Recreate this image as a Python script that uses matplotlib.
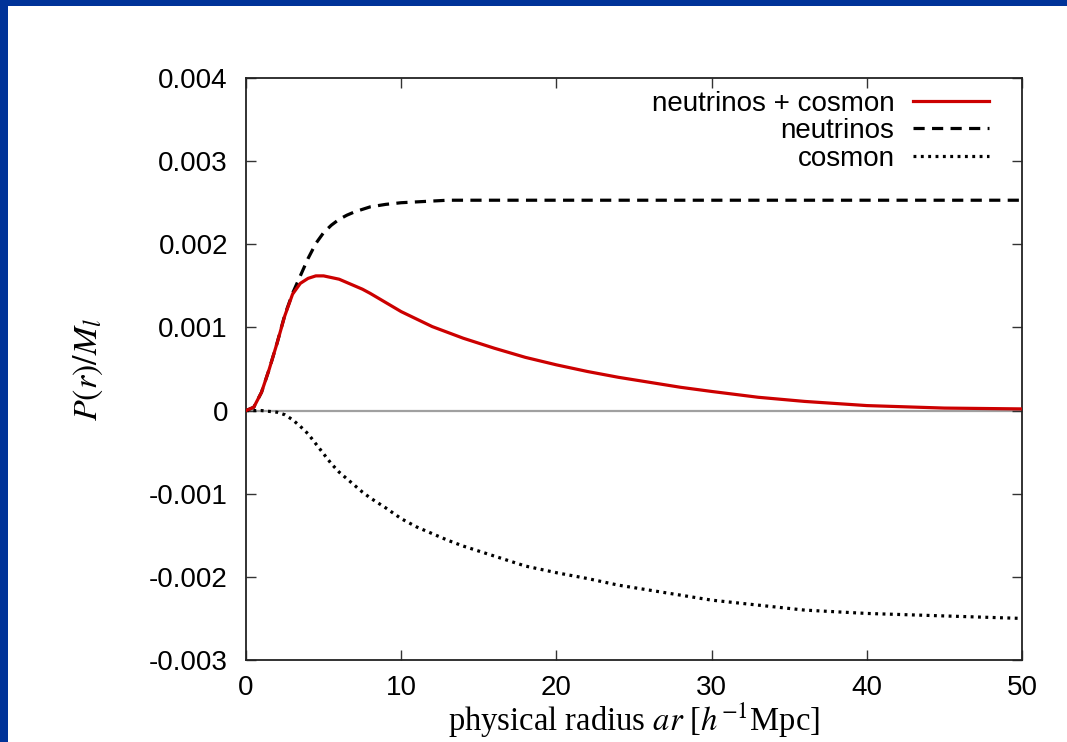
import numpy as np
import matplotlib
matplotlib.use("Agg")
import matplotlib.pyplot as plt
from matplotlib.patches import Rectangle

plt.rcParams['font.family'] = ['Liberation Sans', 'DejaVu Sans']
plt.rcParams['mathtext.fontset'] = 'stix'

# radius values (h^-1 Mpc)
radius = [0, 0.5, 1, 1.5, 2, 2.5, 3, 3.5, 4, 4.5, 5, 5.5, 6, 6.5, 7, 7.5, 8, 9,
          10, 11, 12, 13, 14, 16, 18, 20, 22, 24, 26, 28, 30, 33, 36, 40, 45, 50]

# neutrinos + cosmon (solid red)
total = [0, 0.00004, 0.00022, 0.0005, 0.00081, 0.00114, 0.0014, 0.00153,
         0.00159, 0.00162, 0.00162, 0.0016, 0.00158, 0.00154, 0.0015, 0.00146,
         0.00141, 0.0013, 0.00119, 0.0011, 0.00101, 0.00094, 0.00087, 0.00075,
         0.00064, 0.00055, 0.00047, 0.0004, 0.00034, 0.00028, 0.00023, 0.00016,
         0.00011, 0.00006, 0.00003, 0.00002]

# neutrinos (dashed)
neutrinos = [0, 0.00004, 0.00022, 0.0005, 0.00081, 0.00115, 0.00141, 0.00162,
             0.00183, 0.00201, 0.00214, 0.00223, 0.0023, 0.00235, 0.00239,
             0.00242, 0.00245, 0.00248, 0.0025, 0.00251, 0.00252, 0.00253,
             0.00253, 0.00253, 0.00253, 0.00253, 0.00253, 0.00253, 0.00253,
             0.00253, 0.00253, 0.00253, 0.00253, 0.00253, 0.00253, 0.00253]

# cosmon (dotted)
cosmon = [0, 0, 0, -0.00001, -0.00002, -0.00005, -0.00011, -0.00019, -0.00028,
          -0.0004, -0.00052, -0.00064, -0.00074, -0.00082, -0.0009, -0.00098,
          -0.00105, -0.00117, -0.0013, -0.0014, -0.00148, -0.00156, -0.00163,
          -0.00175, -0.00187, -0.00195, -0.00202, -0.0021, -0.00216, -0.00222,
          -0.00228, -0.00234, -0.0024, -0.00244, -0.00247, -0.0025]

xticks = [0, 10, 20, 30, 40, 50]
yticks = [-0.003, -0.002, -0.001, 0, 0.001, 0.002, 0.003, 0.004]
ytick_labels = ['-0.003', '-0.002', '-0.001', '0', '0.001', '0.002', '0.003', '0.004']

fig = plt.figure(figsize=(10.67, 7.42), dpi=100)
fig.patch.set_facecolor('#003399')
# white page inside the blue frame
fig.patches.append(Rectangle((8 / 1067, 0), 1, 1 - 6 / 742, transform=fig.transFigure,
                             facecolor='white', edgecolor='none', zorder=-5))

ax = fig.add_axes([246 / 1067, 1 - 660 / 742, 776 / 1067, 582 / 742])
ax.set_zorder(2)

ax.axhline(0, color='#a0a0a0', lw=1.6, zorder=1)
ax.plot(radius, total, color='#cc0000', lw=2.3, label='neutrinos + cosmon',
        zorder=3, solid_joinstyle='round')
ax.plot(radius, neutrinos, color='black', lw=2.3, dashes=(3.5, 2.3),
        label='neutrinos', zorder=2)
ax.plot(radius, cosmon, color='black', lw=2.3, dashes=(0.9, 1.4),
        dash_capstyle='butt', label='cosmon', zorder=2)

ax.set_xlim(0, 50)
ax.set_ylim(-0.003, 0.004)
ax.set_xticks(xticks)
ax.set_yticks(yticks)
ax.set_yticklabels(ytick_labels)
ax.tick_params(direction='in', top=True, right=True, length=7, width=1,
               color='#333333', labelsize=20)
ax.tick_params(axis='x', pad=11)
ax.tick_params(axis='y', pad=13)
for s in ax.spines.values():
    s.set_color('#222222')
    s.set_linewidth(1.3)

ax.set_xlabel(r'physical radius $ar$ [$h^{-1}$Mpc]', fontsize=23.5,
              family=['Liberation Serif', 'DejaVu Serif'])
ax.xaxis.set_label_coords(0.5, -0.07)
ax.set_ylabel(r'$P(r)/M_l$', fontsize=24.5)
ax.yaxis.set_label_coords(-0.182, 0.5)

leg = ax.legend(loc='upper right', bbox_to_anchor=(0.9575, 0.978), frameon=False,
                markerfirst=False, fontsize=20, handlelength=2.75,
                handletextpad=0.65, labelspacing=0.05, borderpad=0,
                borderaxespad=0)

fig.savefig('out.png', dpi=100, facecolor=fig.get_facecolor())
